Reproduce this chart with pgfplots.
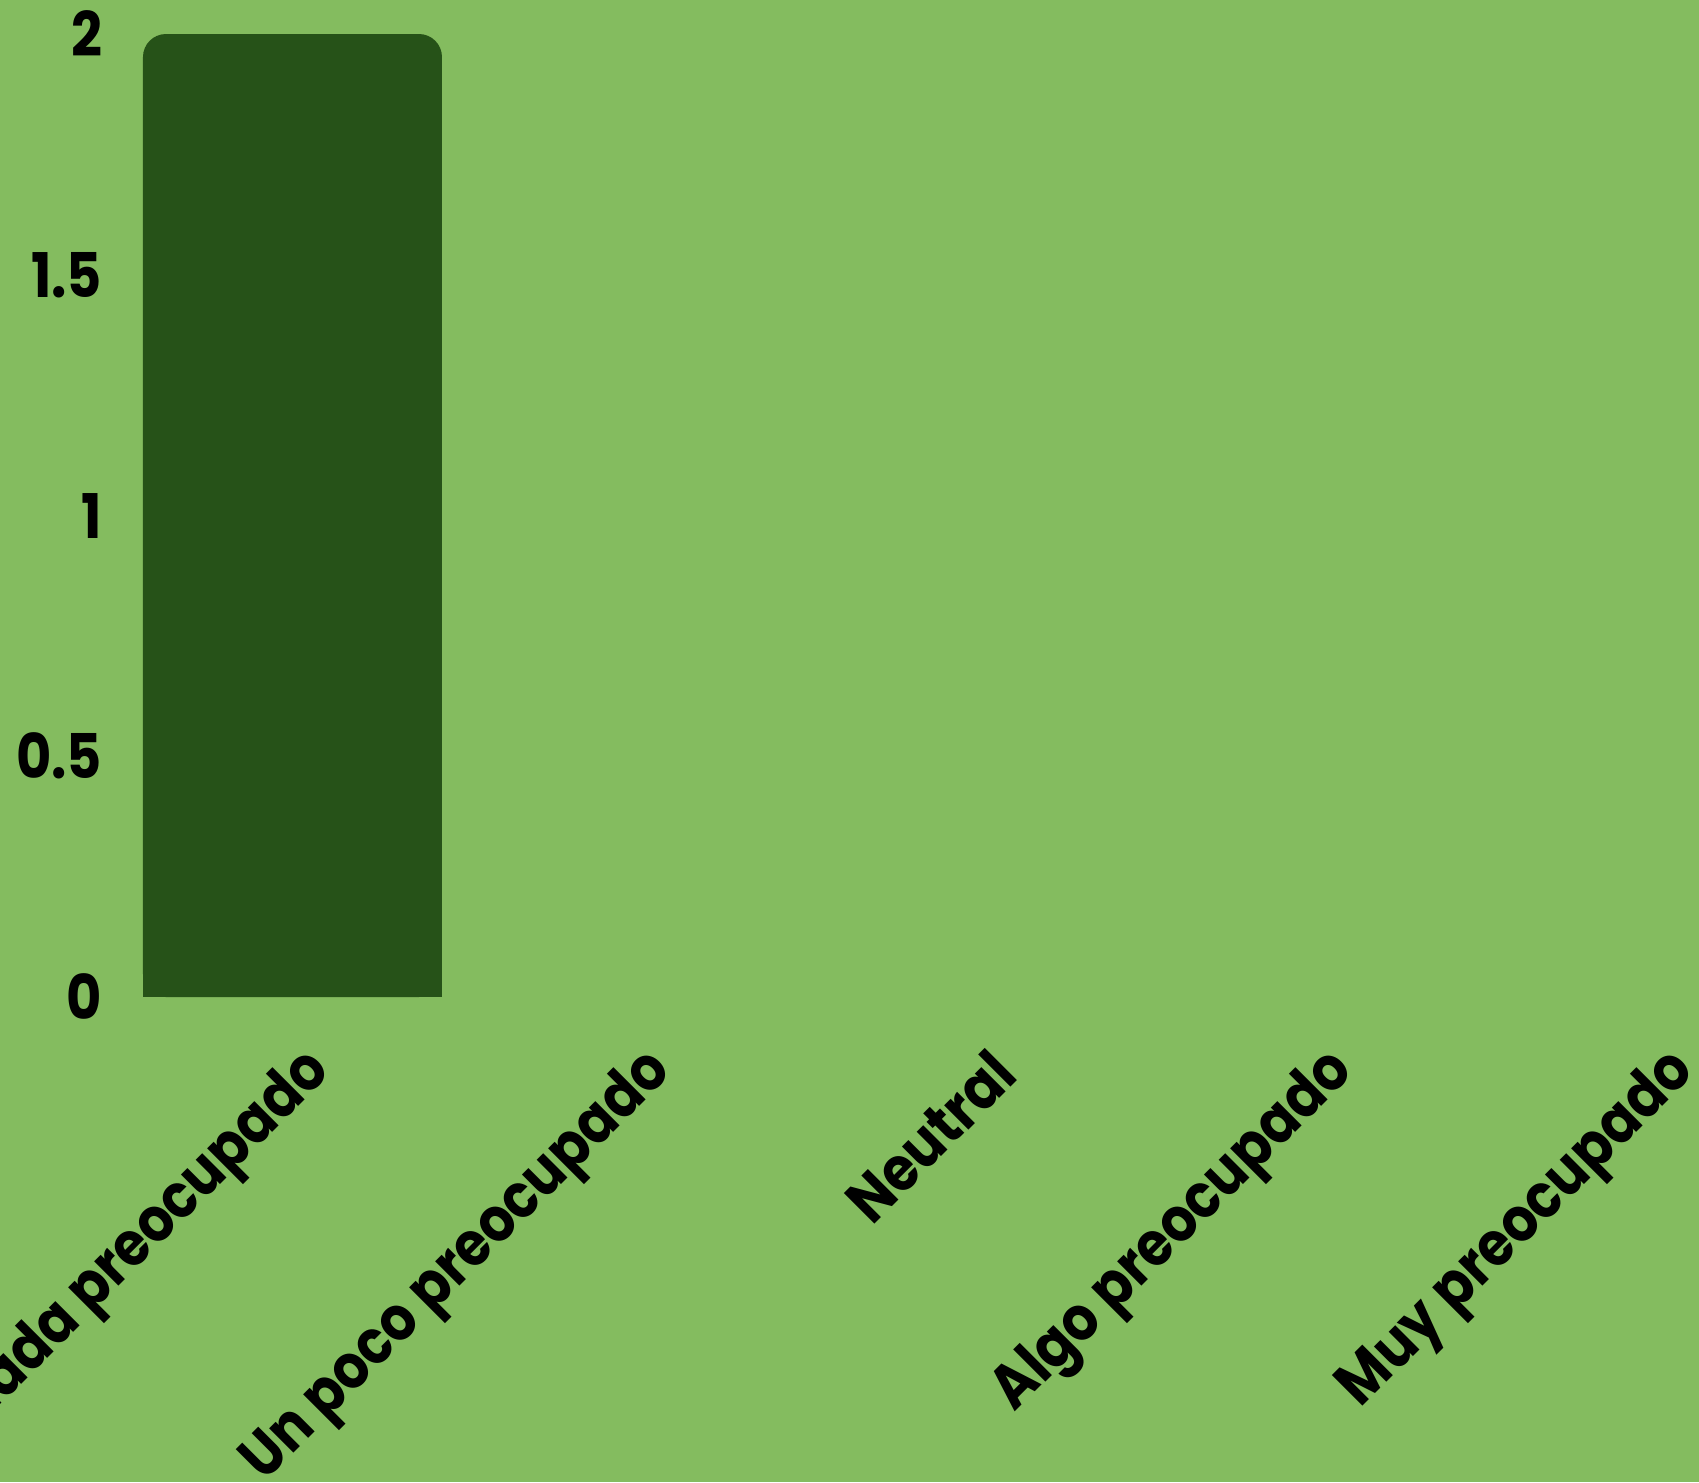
\documentclass[border=0pt]{standalone}
\usepackage{pgfplots}
\pgfplotsset{compat=1.18}
\usepackage{fontspec}
\setmainfont{Poppins}[BoldFeatures={FakeStretch=0.88}]
\definecolor{bg}{HTML}{84BC5F}
\definecolor{barc}{HTML}{265218}
\begin{document}
\begin{tikzpicture}
\fill[bg] (0,0) rectangle (424.75pt,370.5pt);
\begin{axis}[
  at={(24.75pt,121.25pt)}, anchor=south west,
  scale only axis, width=400pt, height=240.75pt,
  xmin=-0.5674, xmax=4.1246, ymin=0, ymax=2,
  clip=false,
  axis line style={draw=none},
  major tick style={draw=none},
  major tick length=0pt,
  xtick={0,1,2,3,4},
  xticklabels={Nada preocupado,Un poco preocupado,Neutral,Algo preocupado,Muy preocupado},
  ytick={0,0.5,1,1.5,2},
  yticklabels={0,0.5,1,1.5,2},
  ticklabel style={font=\fontsize{15.4pt}{18pt}\selectfont\bfseries, text=black},
  yticklabel style={anchor=east, inner sep=0pt, xshift=1pt},
  xticklabel style={xshift=7.5pt, yshift=-16.25pt, rotate=45, anchor=east, inner sep=0pt},
  y filter/.expression={y==0 ? nan : y},
  unbounded coords=discard,
]
% values: Nada preocupado = 2, all other categories = 0
\addplot[ybar, bar width=74.75pt, bar shift=0pt, fill=barc, draw=none, rounded corners=5.75pt]
  coordinates {(0,2) (1,0) (2,0) (3,0) (4,0)};
% square foot of the bar (keeps the bottom corners sharp)
\addplot[ybar, bar width=74.75pt, bar shift=0pt, fill=barc, draw=none]
  coordinates {(0,0.06)};
\end{axis}
\pgfresetboundingbox
\useasboundingbox (0,0) rectangle (424.75pt,370.5pt);
\end{tikzpicture}
\end{document}
